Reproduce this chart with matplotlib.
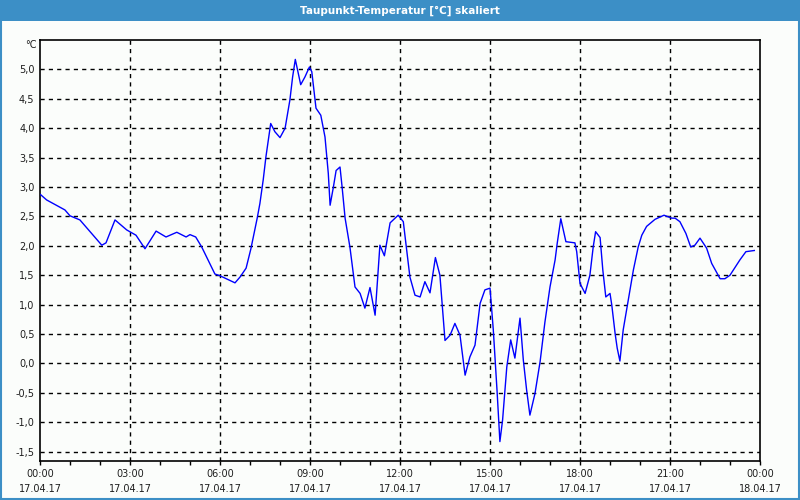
import numpy as np
import matplotlib.pyplot as plt
from matplotlib.ticker import FixedLocator, MultipleLocator

# time of day in hours (17.04.17), dew point in degC
hours = [0.02, 0.22, 0.83, 1.0, 1.33, 2.06, 2.2, 2.5, 2.89, 3.2, 3.5, 3.87,
         4.2, 4.56, 4.87, 5.0, 5.19, 5.39, 5.83, 6.0, 6.5, 6.67, 6.87, 7.03,
         7.13, 7.24, 7.33, 7.44, 7.53, 7.69, 7.83, 8.0, 8.17, 8.33, 8.42,
         8.51, 8.69, 8.83, 8.98, 9.06, 9.2, 9.36, 9.5, 9.61, 9.67, 9.78,
         9.87, 10.0, 10.07, 10.17, 10.33, 10.5, 10.67, 10.83, 11.0, 11.17,
         11.33, 11.48, 11.67, 11.94, 12.11, 12.33, 12.5, 12.67, 12.83, 13.0,
         13.18, 13.33, 13.5, 13.67, 13.83, 14.0, 14.17, 14.33, 14.5, 14.67,
         14.83, 15.0, 15.11, 15.24, 15.33, 15.42, 15.56, 15.69, 15.83, 16.0,
         16.11, 16.22, 16.33, 16.5, 16.67, 16.83, 17.0, 17.17, 17.24, 17.36,
         17.53, 17.83, 17.89, 18.0, 18.17, 18.33, 18.44, 18.52, 18.67, 18.76,
         18.86, 19.0, 19.06, 19.17, 19.24, 19.33, 19.44, 19.61, 19.78, 19.94,
         20.06, 20.22, 20.5, 20.8, 21.06, 21.17, 21.33, 21.53, 21.69, 21.83,
         22.0, 22.22, 22.39, 22.67, 22.83, 23.0, 23.33, 23.53, 23.81]
taupunkt = [2.87, 2.78, 2.61, 2.51, 2.44, 2.01, 2.05, 2.44, 2.27, 2.18, 1.95,
            2.25, 2.15, 2.23, 2.15, 2.19, 2.15, 1.98, 1.52, 1.49, 1.37, 1.47,
            1.62, 1.95, 2.2, 2.47, 2.72, 3.12, 3.51, 4.08, 3.94, 3.84, 4.0,
            4.48, 4.87, 5.17, 4.74, 4.87, 5.04, 4.96, 4.34, 4.22, 3.85, 3.23,
            2.69, 3.0, 3.28, 3.34, 3.0, 2.47, 1.98, 1.3, 1.19, 0.94, 1.29,
            0.82, 2.01, 1.83, 2.39, 2.52, 2.41, 1.47, 1.16, 1.13, 1.39, 1.2,
            1.8, 1.5, 0.39, 0.48, 0.68, 0.48, -0.2, 0.11, 0.31, 1.02, 1.25,
            1.28, 0.57, -0.51, -1.33, -0.96, -0.06, 0.4, 0.09, 0.77, 0.06,
            -0.45, -0.88, -0.51, 0.03, 0.7, 1.3, 1.76, 2.04, 2.46, 2.07, 2.05,
            1.9, 1.36, 1.19, 1.5, 1.98, 2.24, 2.14, 1.59, 1.13, 1.19, 0.99,
            0.51, 0.26, 0.04, 0.57, 1.08, 1.59, 1.98, 2.18, 2.33, 2.45, 2.52,
            2.47, 2.47, 2.41, 2.21, 1.98, 2.01, 2.13, 1.96, 1.7, 1.44, 1.44,
            1.5, 1.76, 1.9, 1.92]

x_ticks = [0, 3, 6, 9, 12, 15, 18, 21, 24]
x_labels = ["00:00\n17.04.17", "03:00\n17.04.17", "06:00\n17.04.17",
            "09:00\n17.04.17", "12:00\n17.04.17", "15:00\n17.04.17",
            "18:00\n17.04.17", "21:00\n17.04.17", "00:00\n18.04.17"]
y_ticks = [-1.5, -1.0, -0.5, 0.0, 0.5, 1.0, 1.5, 2.0, 2.5, 3.0, 3.5, 4.0, 4.5, 5.0]

bg = "#fbfdfb"
bar = "#3c8fc6"
txt = "#1e1e1e"

fig = plt.figure(figsize=(8, 5), dpi=100, facecolor=bg)

# title bar + window border
fig.patches.append(plt.Rectangle((0, 0.959), 1, 0.041, transform=fig.transFigure,
                                 facecolor=bar, edgecolor="none", zorder=0))
fig.patches.append(plt.Rectangle((0.001, 0.002), 0.998, 0.996, transform=fig.transFigure,
                                 facecolor="none", edgecolor=bar, linewidth=1.5, zorder=0))
fig.text(0.5, 0.979, "Taupunkt-Temperatur [°C] skaliert", color="white",
         fontsize=7.5, fontweight="bold", ha="center", va="center")

ax = fig.add_axes([0.05, 0.078, 0.90, 0.842])
ax.set_facecolor(bg)
ax.plot(hours, taupunkt, color="#0000ff", linewidth=1.0, zorder=3)

ax.set_xlim(0, 24)
ax.set_ylim(-1.66, 5.5)

ax.set_xticks(x_ticks)
ax.set_xticklabels(x_labels, fontsize=7, color=txt, linespacing=1.55)
ax.xaxis.set_minor_locator(MultipleLocator(1))
ax.tick_params(axis="x", which="both", length=3, width=1, direction="out", pad=3)

ax.set_yticks(y_ticks)
ax.set_yticklabels([f"{v:.1f}".replace(".", ",") for v in y_ticks], fontsize=7, color=txt)
ax.tick_params(axis="y", length=0, pad=4)

for h in x_ticks[1:-1]:
    ax.axvline(h, color="black", linestyle=(0, (3, 3)), linewidth=1, zorder=1)
for v in y_ticks:
    ax.axhline(v, color="black", linestyle=(0, (3, 3)), linewidth=1, zorder=1)

for s in ax.spines.values():
    s.set_linewidth(1.2)
    s.set_color("black")

fig.text(0.046, 0.91, "°C", fontsize=7, color=txt, ha="right", va="center")

fig.savefig("out.png", dpi=100, facecolor=bg)
